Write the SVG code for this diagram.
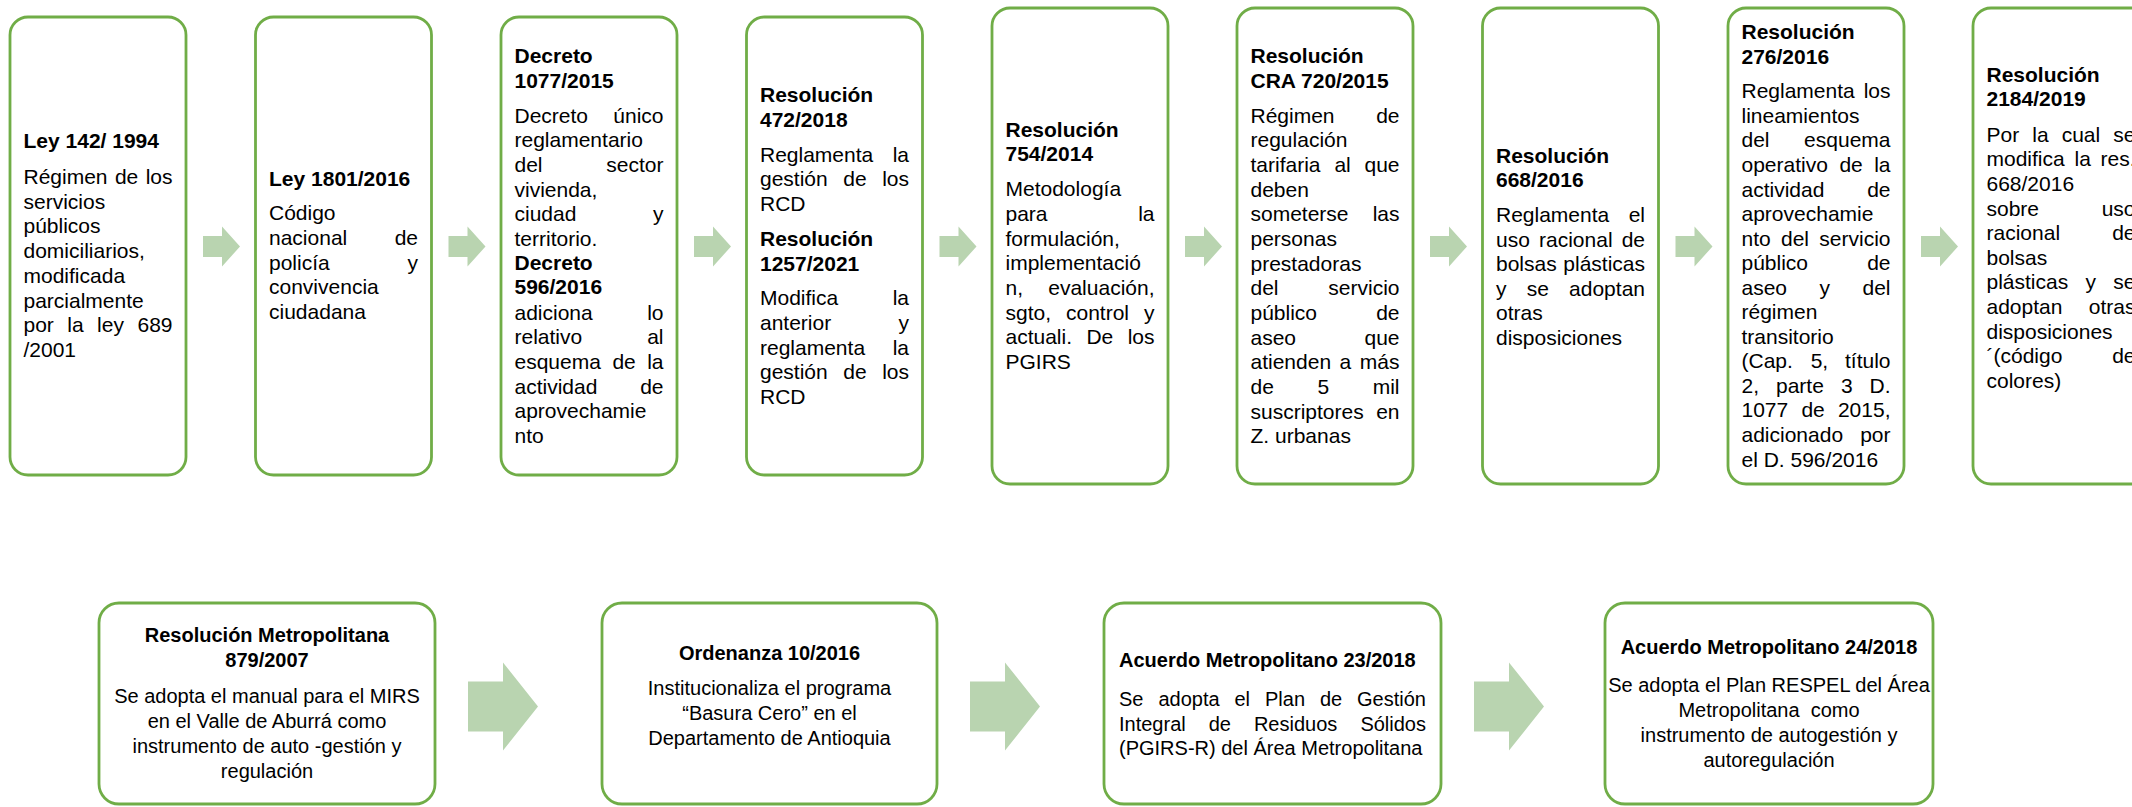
<svg xmlns="http://www.w3.org/2000/svg" xmlns:xlink="http://www.w3.org/1999/xlink" width="2132" height="807" viewBox="0 0 2132 807">
<style>
.box{fill:#ffffff;stroke:#70AD47;stroke-width:2.8}
.arw{fill:#B9D4B0}
text{font-family:"Liberation Sans",Arial,sans-serif;fill:#000000}
.t{font-size:21px}
.b{font-weight:bold}
.s{font-size:20px}
.e{text-anchor:end}
.m{text-anchor:middle}
</style>
<defs>
<path id="arT" d="M0,-10.5 H19 V-20 L37,0 L19,20 V10.5 H0 Z"/>
<path id="arB" d="M0,-25 H35 V-44 L70,0 L35,44 V25 H0 Z"/>
</defs>
<rect width="2132" height="807" fill="#ffffff"/>

<g id="connectors" class="arw">
<use href="#arT" x="203" y="246.5"/>
<use href="#arT" x="448.5" y="246.5"/>
<use href="#arT" x="694" y="246.5"/>
<use href="#arT" x="939.5" y="246.5"/>
<use href="#arT" x="1185" y="246.5"/>
<use href="#arT" x="1430" y="246.5"/>
<use href="#arT" x="1675.5" y="246.5"/>
<use href="#arT" x="1921" y="246.5"/>
<use href="#arB" x="468" y="706.5"/>
<use href="#arB" x="970" y="706.5"/>
<use href="#arB" x="1474" y="706.5"/>
</g>

<g id="n1">
<rect class="box" x="10" y="17" width="176" height="458" rx="18"/>
<text class="t b" x="23.5" y="148">Ley 142/ 1994</text>
<text class="t" x="23.5" y="184">Régimen</text><text class="t" x="114.9" y="184">de</text><text class="t e" x="172.5" y="184">los</text>
<text class="t" x="23.5" y="208.7">servicios</text>
<text class="t" x="23.5" y="233.4">públicos</text>
<text class="t" x="23.5" y="258">domiciliarios,</text>
<text class="t" x="23.5" y="282.8">modificada</text>
<text class="t" x="23.5" y="307.5">parcialmente</text>
<text class="t" x="23.5" y="332">por</text><text class="t" x="67.3" y="332">la</text><text class="t" x="97.1" y="332">ley</text><text class="t e" x="172.5" y="332">689</text>
<text class="t" x="23.5" y="356.8">/2001</text>
</g>

<g id="n2">
<rect class="box" x="255.5" y="17" width="176" height="458" rx="18"/>
<text class="t b" x="269" y="185.7">Ley 1801/2016</text>
<text class="t" x="269" y="220.3">Código</text>
<text class="t" x="269" y="245">nacional</text><text class="t e" x="418" y="245">de</text>
<text class="t" x="269" y="269.7">policía</text><text class="t e" x="418" y="269.7">y</text>
<text class="t" x="269" y="294.4">convivencia</text>
<text class="t" x="269" y="319">ciudadana</text>
</g>

<g id="n3">
<rect class="box" x="501" y="17" width="176" height="458" rx="18"/>
<text class="t b" x="514.5" y="63.3">Decreto</text>
<text class="t b" x="514.5" y="87.7">1077/2015</text>
<text class="t" x="514.5" y="122.7">Decreto</text><text class="t e" x="663.5" y="122.7">único</text>
<text class="t" x="514.5" y="147.4">reglamentario</text>
<text class="t" x="514.5" y="172">del</text><text class="t e" x="663.5" y="172">sector</text>
<text class="t" x="514.5" y="196.7">vivienda,</text>
<text class="t" x="514.5" y="221.4">ciudad</text><text class="t e" x="663.5" y="221.4">y</text>
<text class="t" x="514.5" y="246">territorio.</text>
<text class="t b" x="514.5" y="269.5">Decreto</text>
<text class="t b" x="514.5" y="294">596/2016</text>
<text class="t" x="514.5" y="319.7">adiciona</text><text class="t e" x="663.5" y="319.7">lo</text>
<text class="t" x="514.5" y="344.3">relativo</text><text class="t e" x="663.5" y="344.3">al</text>
<text class="t" x="514.5" y="368.9">esquema</text><text class="t" x="612.4" y="368.9">de</text><text class="t e" x="663.5" y="368.9">la</text>
<text class="t" x="514.5" y="393.6">actividad</text><text class="t e" x="663.5" y="393.6">de</text>
<text class="t" x="514.5" y="418.3">aprovechamie</text>
<text class="t" x="514.5" y="443">nto</text>
</g>

<g id="n4">
<rect class="box" x="746.5" y="17" width="176" height="458" rx="18"/>
<text class="t b" x="760" y="101.7">Resolución</text>
<text class="t b" x="760" y="126.7">472/2018</text>
<text class="t" x="760" y="161.7">Reglamenta</text><text class="t e" x="909" y="161.7">la</text>
<text class="t" x="760" y="186.3">gestión</text><text class="t" x="843.3" y="186.3">de</text><text class="t e" x="909" y="186.3">los</text>
<text class="t" x="760" y="211">RCD</text>
<text class="t b" x="760" y="246">Resolución</text>
<text class="t b" x="760" y="270.7">1257/2021</text>
<text class="t" x="760" y="305.3">Modifica</text><text class="t e" x="909" y="305.3">la</text>
<text class="t" x="760" y="330">anterior</text><text class="t e" x="909" y="330">y</text>
<text class="t" x="760" y="354.6">reglamenta</text><text class="t e" x="909" y="354.6">la</text>
<text class="t" x="760" y="379.3">gestión</text><text class="t" x="843.3" y="379.3">de</text><text class="t e" x="909" y="379.3">los</text>
<text class="t" x="760" y="404">RCD</text>
</g>

<g id="n5">
<rect class="box" x="992" y="8" width="176" height="476" rx="18"/>
<text class="t b" x="1005.5" y="136.5">Resolución</text>
<text class="t b" x="1005.5" y="161.2">754/2014</text>
<text class="t" x="1005.5" y="196.2">Metodología</text>
<text class="t" x="1005.5" y="220.9">para</text><text class="t e" x="1154.5" y="220.9">la</text>
<text class="t" x="1005.5" y="245.5">formulación,</text>
<text class="t" x="1005.5" y="270.2">implementació</text>
<text class="t" x="1005.5" y="294.8">n,</text><text class="t e" x="1154.5" y="294.8">evaluación,</text>
<text class="t" x="1005.5" y="319.5">sgto,</text><text class="t" x="1066" y="319.5">control</text><text class="t e" x="1154.5" y="319.5">y</text>
<text class="t" x="1005.5" y="344.1">actuali.</text><text class="t" x="1086.4" y="344.1">De</text><text class="t e" x="1154.5" y="344.1">los</text>
<text class="t" x="1005.5" y="368.8">PGIRS</text>
</g>

<g id="n6">
<rect class="box" x="1237" y="8" width="176" height="476" rx="18"/>
<text class="t b" x="1250.5" y="63">Resolución</text>
<text class="t b" x="1250.5" y="87.7">CRA 720/2015</text>
<text class="t" x="1250.5" y="122.7">Régimen</text><text class="t e" x="1399.5" y="122.7">de</text>
<text class="t" x="1250.5" y="147.35">regulación</text>
<text class="t" x="1250.5" y="172">tarifaria</text><text class="t" x="1334.4" y="172">al</text><text class="t e" x="1399.5" y="172">que</text>
<text class="t" x="1250.5" y="196.65">deben</text>
<text class="t" x="1250.5" y="221.3">someterse</text><text class="t e" x="1399.5" y="221.3">las</text>
<text class="t" x="1250.5" y="245.95">personas</text>
<text class="t" x="1250.5" y="270.6">prestadoras</text>
<text class="t" x="1250.5" y="295.25">del</text><text class="t e" x="1399.5" y="295.25">servicio</text>
<text class="t" x="1250.5" y="319.9">público</text><text class="t e" x="1399.5" y="319.9">de</text>
<text class="t" x="1250.5" y="344.55">aseo</text><text class="t e" x="1399.5" y="344.55">que</text>
<text class="t" x="1250.5" y="369.2">atienden</text><text class="t" x="1339.6" y="369.2">a</text><text class="t e" x="1399.5" y="369.2">más</text>
<text class="t" x="1250.5" y="393.85">de</text><text class="t" x="1317.5" y="393.85">5</text><text class="t e" x="1399.5" y="393.85">mil</text>
<text class="t" x="1250.5" y="418.5">suscriptores</text><text class="t e" x="1399.5" y="418.5">en</text>
<text class="t" x="1250.5" y="443.15">Z. urbanas</text>
</g>

<g id="n7">
<rect class="box" x="1482.5" y="8" width="176" height="476" rx="18"/>
<text class="t b" x="1496" y="162.5">Resolución</text>
<text class="t b" x="1496" y="187.2">668/2016</text>
<text class="t" x="1496" y="221.8">Reglamenta</text><text class="t e" x="1645" y="221.8">el</text>
<text class="t" x="1496" y="246.5">uso</text><text class="t" x="1539" y="246.5">racional</text><text class="t e" x="1645" y="246.5">de</text>
<text class="t" x="1496" y="271.1">bolsas</text><text class="t e" x="1645" y="271.1">plásticas</text>
<text class="t" x="1496" y="295.8">y</text><text class="t" x="1526.7" y="295.8">se</text><text class="t e" x="1645" y="295.8">adoptan</text>
<text class="t" x="1496" y="320.4">otras</text>
<text class="t" x="1496" y="345">disposiciones</text>
</g>

<g id="n8">
<rect class="box" x="1728" y="8" width="176" height="476" rx="18"/>
<text class="t b" x="1741.5" y="39">Resolución</text>
<text class="t b" x="1741.5" y="63.6">276/2016</text>
<text class="t" x="1741.5" y="98.3">Reglamenta</text><text class="t e" x="1890.5" y="98.3">los</text>
<text class="t" x="1741.5" y="122.85">lineamientos</text>
<text class="t" x="1741.5" y="147.4">del</text><text class="t e" x="1890.5" y="147.4">esquema</text>
<text class="t" x="1741.5" y="171.95">operativo</text><text class="t" x="1839.4" y="171.95">de</text><text class="t e" x="1890.5" y="171.95">la</text>
<text class="t" x="1741.5" y="196.5">actividad</text><text class="t e" x="1890.5" y="196.5">de</text>
<text class="t" x="1741.5" y="221.05">aprovechamie</text>
<text class="t" x="1741.5" y="245.6">nto</text><text class="t" x="1781" y="245.6">del</text><text class="t e" x="1890.5" y="245.6">servicio</text>
<text class="t" x="1741.5" y="270.15">público</text><text class="t e" x="1890.5" y="270.15">de</text>
<text class="t" x="1741.5" y="294.7">aseo</text><text class="t" x="1819.5" y="294.7">y</text><text class="t e" x="1890.5" y="294.7">del</text>
<text class="t" x="1741.5" y="319.25">régimen</text>
<text class="t" x="1741.5" y="343.8">transitorio</text>
<text class="t" x="1741.5" y="368.35">(Cap.</text><text class="t" x="1810.7" y="368.35">5,</text><text class="t e" x="1890.5" y="368.35">título</text>
<text class="t" x="1741.5" y="392.9">2,</text><text class="t" x="1776" y="392.9">parte</text><text class="t" x="1840.9" y="392.9">3</text><text class="t e" x="1890.5" y="392.9">D.</text>
<text class="t" x="1741.5" y="417.45">1077</text><text class="t" x="1801.4" y="417.45">de</text><text class="t e" x="1890.5" y="417.45">2015,</text>
<text class="t" x="1741.5" y="442">adicionado</text><text class="t e" x="1890.5" y="442">por</text>
<text class="t" x="1741.5" y="466.55">el D. 596/2016</text>
</g>

<g id="n9">
<rect class="box" x="1973" y="8" width="176" height="476" rx="18"/>
<text class="t b" x="1986.5" y="81.7">Resolución</text>
<text class="t b" x="1986.5" y="106.2">2184/2019</text>
<text class="t" x="1986.5" y="141.7">Por</text><text class="t" x="2032.3" y="141.7">la</text><text class="t" x="2061.7" y="141.7">cual</text><text class="t e" x="2135.5" y="141.7">se</text>
<text class="t" x="1986.5" y="166.3">modifica</text><text class="t" x="2074.5" y="166.3">la</text><text class="t e" x="2135.5" y="166.3">res.</text>
<text class="t" x="1986.5" y="190.9">668/2016</text>
<text class="t" x="1986.5" y="215.5">sobre</text><text class="t e" x="2135.5" y="215.5">uso</text>
<text class="t" x="1986.5" y="240.1">racional</text><text class="t e" x="2135.5" y="240.1">de</text>
<text class="t" x="1986.5" y="264.7">bolsas</text>
<text class="t" x="1986.5" y="289.3">plásticas</text><text class="t" x="2085.5" y="289.3">y</text><text class="t e" x="2135.5" y="289.3">se</text>
<text class="t" x="1986.5" y="313.9">adoptan</text><text class="t e" x="2135.5" y="313.9">otras</text>
<text class="t" x="1986.5" y="338.5">disposiciones</text>
<text class="t" x="1986.5" y="363.1">´(código</text><text class="t e" x="2135.5" y="363.1">de</text>
<text class="t" x="1986.5" y="387.7">colores)</text>
</g>

<g id="n10">
<rect class="box" x="99" y="603" width="336" height="201" rx="20"/>
<text class="s b m" x="267" y="641.7">Resolución Metropolitana</text>
<text class="s b m" x="267" y="666.7">879/2007</text>
<text class="s m" x="267" y="703.3">Se adopta el manual para el MIRS</text>
<text class="s m" x="267" y="728.3">en el Valle de Aburrá como</text>
<text class="s m" x="267" y="753.3">instrumento de auto -gestión y</text>
<text class="s m" x="267" y="778.3">regulación</text>
</g>

<g id="n11">
<rect class="box" x="602" y="603" width="335" height="201" rx="20"/>
<text class="s b m" x="769.5" y="660">Ordenanza 10/2016</text>
<text class="s m" x="769.5" y="695">Institucionaliza el programa</text>
<text class="s m" x="769.5" y="720">“Basura Cero” en el</text>
<text class="s m" x="769.5" y="745">Departamento de Antioquia</text>
</g>

<g id="n12">
<rect class="box" x="1104" y="603" width="337" height="201" rx="20"/>
<text class="s b" x="1119" y="667">Acuerdo Metropolitano 23/2018</text>
<text class="s" x="1119" y="706">Se</text><text class="s" x="1158.4" y="706">adopta</text><text class="s" x="1234.5" y="706">el</text><text class="s" x="1265" y="706">Plan</text><text class="s" x="1319.9" y="706">de</text><text class="s e" x="1426" y="706">Gestión</text>
<text class="s" x="1119" y="730.7">Integral</text><text class="s" x="1208.7" y="730.7">de</text><text class="s" x="1253.9" y="730.7">Residuos</text><text class="s e" x="1426" y="730.7">Sólidos</text>
<text class="s" x="1119" y="755.4">(PGIRS-R) del Área Metropolitana</text>
</g>

<g id="n13">
<rect class="box" x="1605" y="603" width="328" height="201" rx="20"/>
<text class="s b m" x="1769" y="654">Acuerdo Metropolitano 24/2018</text>
<text class="s m" x="1769" y="692">Se adopta el Plan RESPEL del Área</text>
<text class="s m" x="1769" y="717" style="white-space:pre">Metropolitana  como</text>
<text class="s m" x="1769" y="742">instrumento de autogestión y</text>
<text class="s m" x="1769" y="767">autoregulación</text>
</g>
</svg>
